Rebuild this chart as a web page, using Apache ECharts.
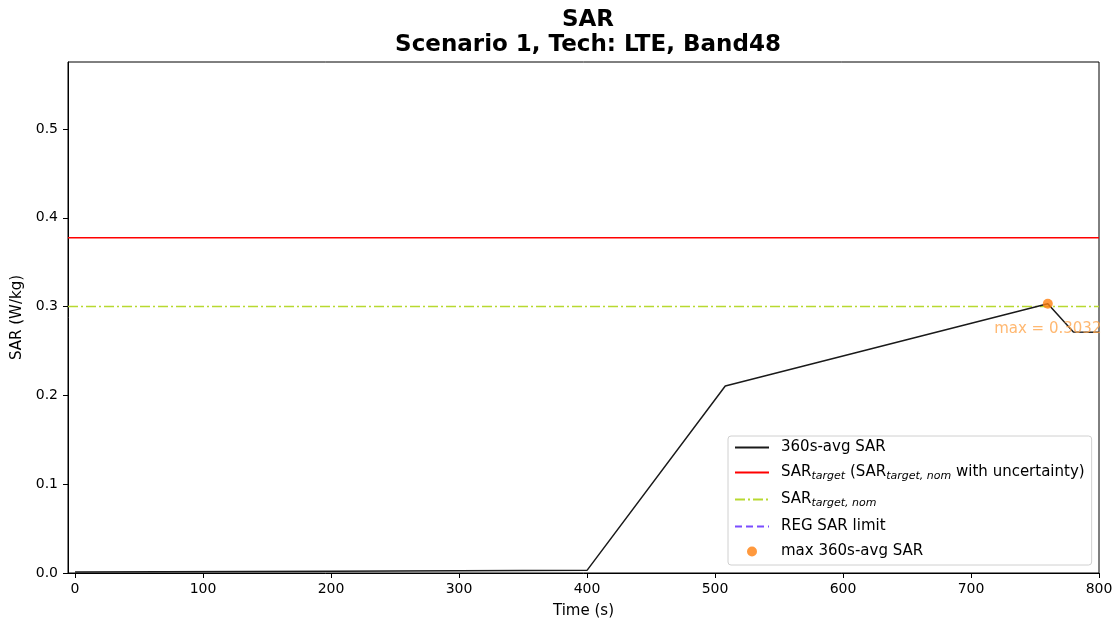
<!DOCTYPE html>
<html>
<head>
<meta charset="utf-8">
<script src="https://cdn.jsdelivr.net/npm/echarts@6/dist/echarts.min.js"></script>
<style>html,body{margin:0;padding:0;background:#fff}#c{width:1116px;height:624px}</style>
</head>
<body>
<div id="c"></div>
<script>
// Data
const timeVals = [0, 200, 400, 508, 760, 780, 800];
const sarVals = [0.001, 0.002, 0.003, 0.2106, 0.3032, 0.2714, 0.2710];
const sarTarget = 0.3777;
const sarTargetNom = 0.3;
const maxPoint = [760, 0.3032];
const xLimits = [-5.5, 800];
const yLimits = [0, 0.5755];
const xTicks = [0, 100, 200, 300, 400, 500, 600, 700, 800];
const yTicks = [0, 0.1, 0.2, 0.3, 0.4, 0.5];

const FONT = 'DejaVu Sans';
const legendText = {
  '360s-avg SAR': '{g| }{n|360s-avg SAR}',
  'SAR_target': '{g| }{n|SAR}{s|target}{n| (SAR}{s|target, nom}{n| with uncertainty)}',
  'SAR_target_nom': '{g| }{n|SAR}{s|target, nom}',
  'REG SAR limit': '{g| }{n|REG SAR limit}',
  'max 360s-avg SAR': '{g| }{n|max 360s-avg SAR}'
};
const hideSym = {opacity: 0};

const chart = echarts.init(document.getElementById('c'), null, {renderer: 'canvas'});
chart.setOption({
  animation: false,
  backgroundColor: '#fff',
  textStyle: {fontFamily: FONT},
  title: {
    text: 'SAR\nScenario 1, Tech: LTE, Band48',
    left: 583, top: 3, textAlign: 'center',
    textStyle: {fontFamily: FONT, fontSize: 23, fontWeight: 'bold', color: '#000', lineHeight: 25}
  },
  grid: {left: 68, right: 17, top: 62, bottom: 51, show: true, borderColor: '#000', borderWidth: 1, containLabel: false},
  xAxis: {
    type: 'value', min: xLimits[0], max: xLimits[1],
    name: 'Time (s)', nameLocation: 'middle', nameGap: 31,
    nameTextStyle: {fontFamily: FONT, fontSize: 15, color: '#000'},
    axisLine: {show: true, onZero: false, lineStyle: {color: '#000'}},
    axisTick: {show: true, inside: false, length: 5, lineStyle: {color: '#000'}, customValues: xTicks},
    axisLabel: {color: '#000', fontSize: 14, fontFamily: FONT, margin: 9, customValues: xTicks},
    splitLine: {show: false}
  },
  yAxis: {
    type: 'value', min: yLimits[0], max: yLimits[1],
    name: 'SAR (W/kg)', nameLocation: 'middle', nameGap: 38,
    nameTextStyle: {fontFamily: FONT, fontSize: 15, color: '#000'},
    axisLine: {show: true, onZero: false, lineStyle: {color: '#000'}},
    axisTick: {show: true, inside: false, length: 5, lineStyle: {color: '#000'}, customValues: yTicks},
    axisLabel: {color: '#000', fontSize: 14, fontFamily: FONT, margin: 10, customValues: yTicks,
      formatter: v => v.toFixed(1)},
    splitLine: {show: false}
  },
  legend: {
    orient: 'vertical', left: 728, top: 436,
    backgroundColor: 'rgba(255,255,255,0.8)', borderColor: '#d0d0d0', borderWidth: 1, borderRadius: 3,
    padding: [4, 7, 6, 6], itemGap: 10, itemWidth: 34, itemHeight: 10,
    data: [
      {name: '360s-avg SAR', itemStyle: hideSym},
      {name: 'SAR_target', itemStyle: hideSym},
      {name: 'SAR_target_nom', itemStyle: hideSym},
      {name: 'REG SAR limit', itemStyle: hideSym},
      {name: 'max 360s-avg SAR'}
    ],
    formatter: name => legendText[name],
    textStyle: {
      color: '#000', fontFamily: FONT, fontSize: 15,
      rich: {
        g: {width: 7, fontSize: 15, lineHeight: 19},
        n: {fontFamily: FONT, fontSize: 15, color: '#000', lineHeight: 19},
        s: {fontFamily: FONT, fontSize: 11, fontStyle: 'italic', color: '#000', lineHeight: 19, verticalAlign: 'bottom', padding: [6, 0, 0, 0]}
      }
    }
  },
  series: [
    {
      name: '360s-avg SAR', type: 'line', symbol: 'none', showSymbol: false,
      data: timeVals.map((t, i) => [t, sarVals[i]]),
      lineStyle: {color: '#1a1a1a', width: 1.5}, itemStyle: {color: '#1a1a1a'}, z: 3
    },
    {
      name: 'SAR_target', type: 'line', symbol: 'none', showSymbol: false,
      data: xLimits.map(x => [x, sarTarget]),
      lineStyle: {color: '#ff0000', width: 1.5}, itemStyle: {color: '#ff0000'}, z: 2
    },
    {
      name: 'SAR_target_nom', type: 'line', symbol: 'none', showSymbol: false,
      data: xLimits.map(x => [x, sarTargetNom]),
      lineStyle: {color: '#b8d930', width: 1.5, type: [10, 3, 2, 3]}, itemStyle: {color: '#b8d930'}, z: 2
    },
    {
      name: 'REG SAR limit', type: 'line', symbol: 'none', showSymbol: false, data: [],
      lineStyle: {color: '#7b4dff', width: 2, type: [7, 4]}, itemStyle: {color: '#7b4dff'}
    },
    {
      name: 'max 360s-avg SAR', type: 'scatter', symbol: 'circle', symbolSize: 10,
      data: [maxPoint], itemStyle: {color: '#ff7f0e'}, z: 5,
      label: {show: true, position: 'bottom', offset: [0, 8], color: '#ffa64d', fontSize: 15, fontFamily: FONT,
        formatter: p => 'max = ' + p.value[1].toFixed(4)}
    }
  ]
});
</script>
</body>
</html>
